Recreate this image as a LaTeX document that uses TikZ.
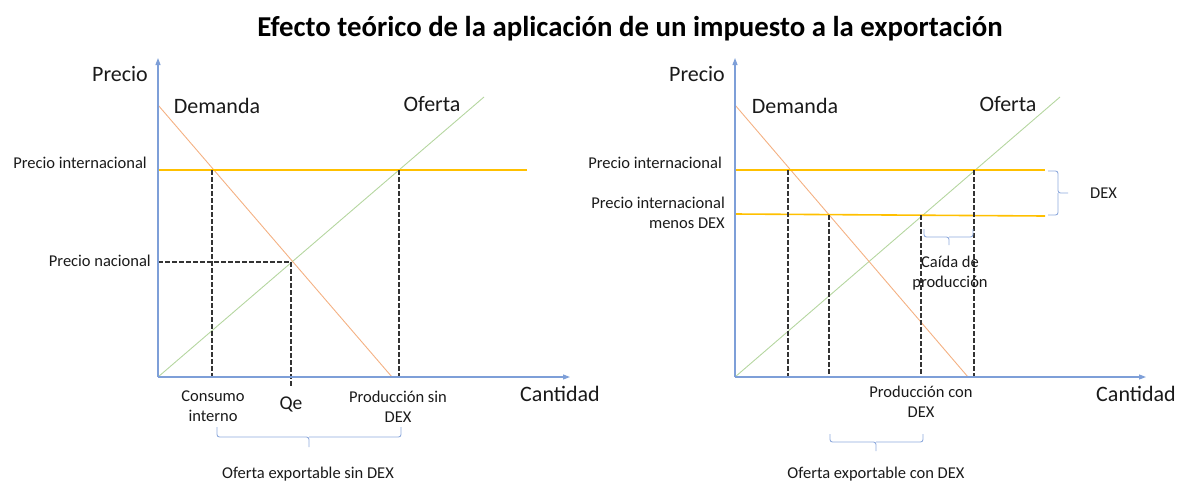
\documentclass[tikz,border=0pt]{standalone}
\usepackage{fontspec}
\setmainfont{Carlito}
\usetikzlibrary{arrows.meta}
\definecolor{axisblue}{HTML}{7E9FD8}
\definecolor{demcol}{HTML}{F4B183}
\definecolor{supcol}{HTML}{B5D6A0}
\definecolor{goldcol}{HTML}{FFC000}
\definecolor{bracecol}{HTML}{8FAADC}
\definecolor{txtcol}{HTML}{1A1A1A}
\begin{document}
\begin{tikzpicture}[x=1pt,y=-1pt,
  axisline/.style={draw=axisblue, line width=1.1pt, -{Triangle[length=7pt,width=5pt]}},
  demline/.style={draw=demcol, line width=0.9pt},
  supline/.style={draw=supcol, line width=0.9pt},
  priceline/.style={draw=goldcol, line width=1.6pt},
  guide/.style={draw=black!80, line width=1.2pt, dash pattern=on 4.5pt off 2.5pt},
  brc/.style={draw=bracecol, line width=0.9pt, rounded corners=2.5pt},
  small/.style={text=txtcol, font=\fontsize{16.5}{20}\selectfont, inner sep=0pt},
  big/.style={text=txtcol, font=\fontsize{22}{26}\selectfont, inner sep=0pt},
  mid/.style={text=txtcol, font=\fontsize{19.5}{23}\selectfont, inner sep=0pt}]
\useasboundingbox (0,0) rectangle (1179,483);

% Title
\node[inner sep=0pt, font=\bfseries\fontsize{28.8}{32}\selectfont] (title) at (630,29) {Efecto teórico de la aplicación de un impuesto a la exportación};

% ================= LEFT PANEL =================
\coordinate (Lo) at (158,377);
\coordinate (Ly) at (158,58);
\coordinate (Lx) at (570,377);
\coordinate (LdA) at (158,105);
\coordinate (LdB) at (392,377);
\coordinate (LsA) at (158,377);
\coordinate (LsB) at (484,97);
\coordinate (LpA) at (158,170);
\coordinate (LpB) at (527,170);
\coordinate (Lc1) at (212,170);
\coordinate (Lc2) at (212,377);
\coordinate (Lq1) at (291,262);
\coordinate (Lq2) at (291,388);
\coordinate (Ln1) at (158,262);
\coordinate (Lp1) at (399,170);
\coordinate (Lp2) at (399,380);

\draw[supline] (LsA) -- (LsB);
\draw[demline] (LdA) -- (LdB);
\draw[priceline] (LpA) -- (LpB);
\draw[guide] (Lc1) -- (Lc2);
\draw[guide] (Ln1) -- (Lq1);
\draw[guide] (Lq1) -- (Lq2);
\draw[guide] (Lp1) -- (Lp2);
\draw[axisline] (Lo) -- (Ly);
\draw[axisline] (Lo) -- (Lx);

\node[big] (Lprecio) at (120,74) {Precio};
\node[big] (Ldem) at (217,106) {Demanda};
\node[big] (Lof) at (432,104) {Oferta};
\node[big] (Lcant) at (560,394) {Cantidad};
\node[small, anchor=east] (Lpi) at (147,163) {Precio internacional};
\node[small, anchor=east] (Lpn) at (151,261) {Precio nacional};
\node[small, align=center] (Lcons) at (213,406) {Consumo\\interno};
\node[mid] (Lqe) at (291,404) {Qe};
\node[small, align=center] (Lprod) at (398,407) {Producción sin\\DEX};

\coordinate (Lb1) at (217,427);
\coordinate (Lb2) at (401,427);
\coordinate (Lbt) at (309,447);
\draw[brc] (Lb1) -- (217,437) -- (309,437) -- (Lbt);
\draw[brc] (309,437) -- (401,437) -- (Lb2);
\node[small] (Lexp) at (308,474) {Oferta exportable sin DEX};

% ================= RIGHT PANEL =================
\coordinate (Ro) at (735,377);
\coordinate (Ry) at (735,58);
\coordinate (Rx) at (1146,377);
\coordinate (RdA) at (735,105);
\coordinate (RdB) at (968,377);
\coordinate (RsA) at (735,377);
\coordinate (RsB) at (1060,97);
\coordinate (RpA) at (735,170);
\coordinate (RpB) at (1045,170);
\coordinate (RmA) at (735,214);
\coordinate (RmB) at (1045,216);
\coordinate (Rv1a) at (788,170);
\coordinate (Rv1b) at (788,377);
\coordinate (Rv2a) at (829,215);
\coordinate (Rv2b) at (829,377);
\coordinate (Rv3a) at (921,215);
\coordinate (Rv3b) at (921,377);
\coordinate (Rv4a) at (974,170);
\coordinate (Rv4b) at (974,377);

\draw[supline] (RsA) -- (RsB);
\draw[demline] (RdA) -- (RdB);
\draw[priceline] (RpA) -- (RpB);
\draw[priceline] (RmA) -- (RmB);
\draw[guide] (Rv1a) -- (Rv1b);
\draw[guide] (Rv2a) -- (Rv2b);
\draw[guide] (Rv3a) -- (Rv3b);
\draw[guide] (Rv4a) -- (Rv4b);
\draw[axisline] (Ro) -- (Ry);
\draw[axisline] (Ro) -- (Rx);

\node[big] (Rprecio) at (697,74) {Precio};
\node[big] (Rdem) at (795,106) {Demanda};
\node[big] (Rof) at (1008,104) {Oferta};
\node[big] (Rcant) at (1136,394) {Cantidad};
\node[small, anchor=east] (Rpi) at (722,163) {Precio internacional};
\node[small, anchor=east, align=right] (Rpm) at (725,213) {Precio internacional\\menos DEX};
\node[small, align=center] (Rcaida) at (950,273) {Caída de\\producción};
\node[small, align=center] (Rprod) at (921,402) {Producción con\\DEX};
\node[small, anchor=west] (Rdex) at (1090,193) {DEX};

% small brace (caida)
\coordinate (Rc1) at (924,229);
\coordinate (Rc2) at (973,229);
\coordinate (Rct) at (949,245);
\draw[brc] (Rc1) -- (924,237) -- (949,237) -- (Rct);
\draw[brc] (949,237) -- (973,237) -- (Rc2);

% DEX brace
\coordinate (Rd1) at (1048,171);
\coordinate (Rd2) at (1048,215);
\coordinate (Rdt) at (1068,193);
\draw[brc] (Rd1) -- (1058,171) -- (1058,193) -- (Rdt);
\draw[brc] (1058,193) -- (1058,215) -- (Rd2);

% lower brace
\coordinate (Rb1) at (830,434);
\coordinate (Rb2) at (923,434);
\coordinate (Rbt) at (876,451);
\draw[brc] (Rb1) -- (830,442) -- (876,442) -- (Rbt);
\draw[brc] (876,442) -- (923,442) -- (Rb2);
\node[small] (Rexp) at (876,474) {Oferta exportable con DEX};
\end{tikzpicture}
\end{document}
